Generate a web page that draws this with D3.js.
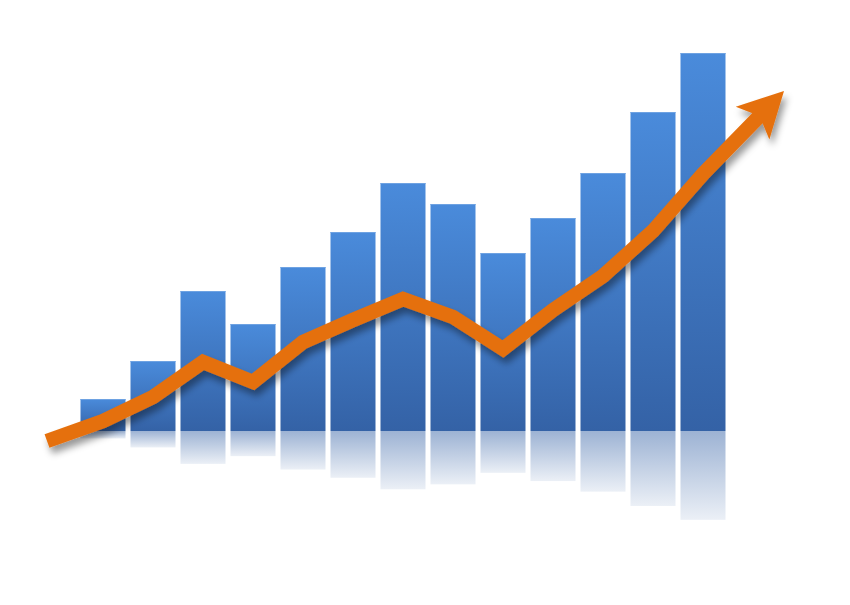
<!DOCTYPE html>
<html><head><meta charset="utf-8">
<script src="https://cdn.jsdelivr.net/npm/d3@7"></script>
<style>html,body{margin:0;padding:0;background:#fff;overflow:hidden}</style>
</head><body>
<svg id="chart" width="850" height="605"></svg>
<script>
// ---- data ----
const categories = ["1","2","3","4","5","6","7","8","9","10","11","12","13"];
const barValues = [8, 17.5, 35, 26.75, 41, 49.75, 62, 56.75, 44.5, 53.25, 64.5, 79.75, 94.5];
const trendPositions = [-1.12, 0, 1, 2, 3, 4, 5, 6, 7, 8, 9, 10, 11, 12, 13.62];
const trendValues = [-2.5, 2.5, 8.5, 17.25, 12.25, 22.25, 27.75, 33, 28.5, 20.5, 30.25, 38.75, 50, 64.25, 85];
const reflectionRatio = 0.235;

// ---- layout ----
const svg = d3.select("#chart");
const baseY = 431;
const x = d3.scaleBand().domain(categories).range([80.5, 725.5]).paddingInner(0.1).paddingOuter(0);
const y = d3.scaleLinear().domain([0, 100]).range([baseY, 31]);
const bw = x.bandwidth();
const xi = d3.scaleLinear().domain([0, categories.length - 1])
  .range([x(categories[0]) + bw / 2, x(categories[categories.length - 1]) + bw / 2]);

const defs = svg.append("defs");
const bg = defs.append("linearGradient").attr("id", "barGrad").attr("x1", 0).attr("y1", 0).attr("x2", 0).attr("y2", 1);
bg.append("stop").attr("offset", "0%").attr("stop-color", "#4a8bdb");
bg.append("stop").attr("offset", "100%").attr("stop-color", "#3462a6");
const rg = defs.append("linearGradient").attr("id", "reflGrad").attr("x1", 0).attr("y1", 0).attr("x2", 0).attr("y2", 1);
rg.append("stop").attr("offset", "0%").attr("stop-color", "#3a66a8").attr("stop-opacity", 0.5);
rg.append("stop").attr("offset", "100%").attr("stop-color", "#3a66a8").attr("stop-opacity", 0.1);
const sh = defs.append("filter").attr("id", "shadow").attr("x", "-20%").attr("y", "-20%").attr("width", "140%").attr("height", "140%");
sh.append("feDropShadow").attr("dx", 3).attr("dy", 6).attr("stdDeviation", 3.5)
  .attr("flood-color", "#000").attr("flood-opacity", 0.4);

// reflections
svg.append("g").selectAll("rect").data(barValues).join("rect")
  .attr("x", (d, i) => x(categories[i]))
  .attr("y", baseY)
  .attr("width", bw)
  .attr("height", d => (baseY - y(d)) * reflectionRatio)
  .attr("fill", "url(#reflGrad)");

// bars
svg.append("g").selectAll("rect").data(barValues).join("rect")
  .attr("x", (d, i) => x(categories[i]))
  .attr("y", d => y(d))
  .attr("width", bw)
  .attr("height", d => baseY - y(d))
  .attr("fill", "url(#barGrad)");
svg.append("g").selectAll("line").data(barValues).join("line")
  .attr("x1", (d, i) => x(categories[i]))
  .attr("x2", (d, i) => x(categories[i]) + bw)
  .attr("y1", d => y(d) + 0.5).attr("y2", d => y(d) + 0.5)
  .attr("stroke", "#6ea2e2").attr("stroke-width", 1);

// trend arrow
const pts = trendPositions.map((p, i) => [xi(p), y(trendValues[i])]);
const tip = pts[pts.length - 1];
const prev = pts[pts.length - 2];
const dx = tip[0] - prev[0], dy = tip[1] - prev[1];
const len = Math.hypot(dx, dy);
const ux = dx / len, uy = dy / len;       // direction
const px = -uy, py = ux;                   // perpendicular
const headLen = 45, headHalf = 23.5, notch = 33;
const shaftPts = pts.slice(0, -1).concat([[tip[0] - ux * notch, tip[1] - uy * notch]]);

const ag = svg.append("g").attr("filter", "url(#shadow)");
ag.append("path")
  .attr("d", d3.line()(shaftPts))
  .attr("fill", "none")
  .attr("stroke", "#e5700c")
  .attr("stroke-width", 14.5)
  .attr("stroke-linejoin", "miter")
  .attr("stroke-linecap", "butt");
const head = [
  tip,
  [tip[0] - ux * headLen + px * headHalf, tip[1] - uy * headLen + py * headHalf],
  [tip[0] - ux * (notch + 2), tip[1] - uy * (notch + 2)],
  [tip[0] - ux * headLen - px * headHalf, tip[1] - uy * headLen - py * headHalf]
];
ag.append("path")
  .attr("d", d3.line()(head) + "Z")
  .attr("fill", "#e5700c");
</script>
</body></html>
